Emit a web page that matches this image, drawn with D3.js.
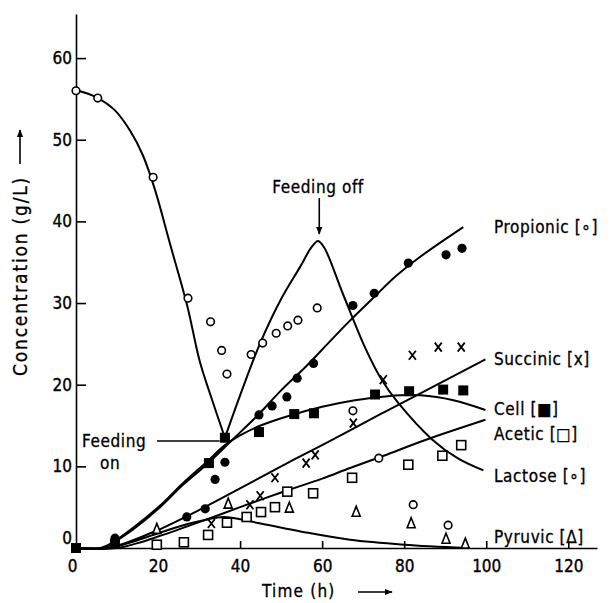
<!DOCTYPE html>
<html lang="en">
<head>
<meta charset="UTF-8">
<title>Concentration vs Time</title>
<style>
  body { margin: 0; background: #fff; }
  svg { display: block; }
  text { font-family: "DejaVu Sans Condensed", "DejaVu Sans", sans-serif; fill: #000; }
  .axis path, .axis line { stroke: #000; stroke-width: 1.6; }
  .axis text { font-size: 17px; stroke: #000; stroke-width: 0.35; }
  .curve { fill: none; stroke: #000; stroke-width: 2; }
  .lbl { font-size: 17px; stroke: #000; stroke-width: 0.3; letter-spacing: 0.6px; }
</style>
</head>
<body>
<svg width="610" height="603"></svg>
<script src="https://d3js.org/d3.v7.min.js"></script>
<script>
// measured points [time h, g/L]
const lactosePts = [[0,56],[5.3,55.1],[18.8,45.4],[27.3,30.6],[32.8,27.7],[35.5,24.2],[36.8,21.3],
  [42.7,23.7],[45.5,25.1],[48.8,26.3],[51.6,27.2],[54.1,27.9],[58.8,29.4],[67.5,16.8],[73.8,11],[82.2,5.3],[90.7,2.8]];
const propionicPts = [[9.5,1.2],[27,3.8],[31.5,4.8],[33.9,8.4],[36.3,10.5],[44.6,16.3],[47.8,17.4],
  [51.4,18.5],[53.9,20.8],[57.9,22.6],[67.5,29.7],[72.7,31.2],[81,34.9],[90.2,35.9],[94.1,36.7]];
const cellPts = [[0,0],[9.5,0.5],[32.4,10.4],[36.3,13.5],[44.6,14.2],[53.2,16.4],[58,16.5],
  [72.9,18.8],[81.2,19.2],[89.5,19.4],[94.4,19.3]];
const succinicPts = [[33,3],[42.4,5.3],[44.9,6.4],[48.5,8.6],[56.1,10.4],[58.3,11.4],[67.6,15.3],
  [74.9,20.6],[82,23.6],[88.3,24.6],[93.9,24.6]];
const aceticPts = [[19.7,0.4],[26.3,0.7],[32.2,1.6],[36.8,3.1],[41.6,3.8],[45.1,4.4],[48.5,5.0],
  [51.5,6.9],[57.8,6.7],[67.3,8.6],[81,10.2],[89.3,11.3],[93.9,12.6]];
const pyruvicPts = [[19.7,2.4],[37.1,5.5],[52,5.0],[68.3,4.5],[81.7,3.1],[90.2,1.2],[94.9,0.6]];

// fitted curves
const lactoseFall = [[0,56.1],[5,55.2],[9.5,53.6],[13.2,51.1],[16.3,48.1],[19.3,43.8],[23,37.1],
  [27.1,29.7],[30.2,22.8],[33.2,18.1],[36.3,13.5]];
const lactoseFeed = [[36.3,13.5],[40,18.7],[44.9,25.1],[50,30.5],[54.6,34.4],[57.5,36.9],[59,37.6],
  [60.5,36.8],[65,31.2],[70.5,24.5],[74.5,20.6],[78.5,17.8],[86.8,13.3],[93,11],[99.3,9.5]];
const propionicCurve = [[0,0],[7,0],[9,0.6],[14,2.3],[20.5,5],[26,7.7],[32,10.3],[38,13.2],[44,16.1],
  [50,19.3],[56,22.2],[60.2,24.4],[66.3,27.6],[72,30.4],[78,33.3],[84,35.7],[94.4,39.3]];
const cellCurve = [[0,0],[6,0],[9,0.7],[14,2.5],[20.5,5.2],[26,7.9],[32,10.6],[36.3,12.6],[40,13.8],
  [45,15],[52,16.2],[60,17.3],[68,18.1],[76,18.6],[84,18.7],[92,18.1],[99.8,16.9]];
const succinicCurve = [[0,0],[8,0],[12,0.6],[20,2.2],[30.2,4.7],[40,7.3],[50,10],[60,12.6],
  [66.8,14.4],[75,16.6],[85,19.2],[99.8,23.1]];
const aceticCurve = [[0,0],[10,0],[15,0.6],[20,1.4],[30.2,3.2],[40,5],[50,6.8],[60,8.5],
  [66.8,9.8],[75,11.3],[85,13.2],[99.8,15.7]];
const pyruvicCurve = [[0,0],[8,0],[14,0.8],[20,1.8],[27,2.9],[32,3.5],[36,3.8],[45,3.0],
  [55,2.0],[66.8,1.0],[80,0.4],[95,0]];

const xTicks = [0,20,40,60,80,100,120];
const yTicks = [0,10,20,30,40,50,60];

const labels = [
  {text: "Propionic [∘]", y: 39.3},
  {text: "Succinic [x]", y: 23.2},
  {text: "Cell [■]", y: 17.0},
  {text: "Acetic [□]", y: 14.0},
  {text: "Lactose [∘]", y: 8.8},
  {text: "Pyruvic [Δ]", y: 1.4}
];

const svg = d3.select("svg");
const x = d3.scaleLinear().domain([0,127]).range([76,597]);
const y = d3.scaleLinear().domain([0,65.4]).range([548,14]);

// axes
const gy = svg.append("g").attr("class","axis").attr("transform","translate(76,0)")
  .call(d3.axisLeft(y).tickValues(yTicks).tickSizeInner(-10).tickSizeOuter(0).tickPadding(4));
gy.selectAll(".tick text").filter(d => d === 0).attr("dy", "-0.25em");
const gx = svg.append("g").attr("class","axis").attr("transform","translate(0,548)")
  .call(d3.axisBottom(x).tickValues(xTicks).tickSizeInner(-7).tickSizeOuter(0).tickPadding(12));
gx.selectAll(".tick text").filter(d => d === 0).attr("dx", "-4");
gx.selectAll(".tick line").filter(d => d === 0).remove();

// curves
const line = d3.line().x(d => x(d[0])).y(d => y(d[1])).curve(d3.curveCatmullRom.alpha(0.5));
[propionicCurve, cellCurve, succinicCurve, aceticCurve, pyruvicCurve, lactoseFeed].forEach(c =>
  svg.append("path").attr("class","curve").attr("d", line(c)));
svg.append("path").attr("class","curve").attr("stroke-width", 2.6).attr("d", line(lactoseFall));

// markers
const g = svg.append("g");
g.selectAll(".lac").data(lactosePts).join("circle")
  .attr("cx", d => x(d[0])).attr("cy", d => y(d[1])).attr("r", 3.8)
  .attr("fill","#fff").attr("stroke","#000").attr("stroke-width",1.6);
g.selectAll(".pro").data(propionicPts).join("circle")
  .attr("cx", d => x(d[0])).attr("cy", d => y(d[1])).attr("r", 4.6).attr("fill","#000");
g.selectAll(".cel").data(cellPts).join("rect")
  .attr("x", d => x(d[0]) - 5).attr("y", d => y(d[1]) - 5).attr("width",10).attr("height",10)
  .attr("fill","#000");
g.selectAll(".ace").data(aceticPts).join("rect")
  .attr("x", d => x(d[0]) - 4.5).attr("y", d => y(d[1]) - 4.5).attr("width",9).attr("height",9)
  .attr("fill","#fff").attr("stroke","#000").attr("stroke-width",1.6);
g.selectAll(".pyr").data(pyruvicPts).join("path")
  .attr("transform", d => `translate(${x(d[0])},${y(d[1])})`)
  .attr("d","M0,-5L4,5L-4,5Z").attr("fill","#fff").attr("stroke","#000").attr("stroke-width",1.6);
g.selectAll(".suc").data(succinicPts).join("path")
  .attr("transform", d => `translate(${x(d[0])},${y(d[1])})`)
  .attr("d","M-3.5,-4.5L3.5,4.5M3.5,-4.5L-3.5,4.5").attr("stroke","#000").attr("stroke-width",1.8);

// series labels
svg.append("g").selectAll("text").data(labels).join("text")
  .attr("class","lbl").attr("x", 494).attr("y", d => y(d.y)).attr("dy","0.35em").text(d => d.text);

// arrowheads
svg.append("defs").append("marker").attr("id","ah").attr("viewBox","0 0 10 10")
  .attr("refX",9).attr("refY",5).attr("markerWidth",5).attr("markerHeight",7)
  .attr("orient","auto").append("path").attr("d","M0,1L10,5L0,9Z").attr("fill","#000");

// feeding annotations
svg.append("text").attr("class","lbl").attr("x", x(59)).attr("y", 193)
  .attr("text-anchor","middle").text("Feeding  off");
svg.append("line").attr("x1", x(59.3)).attr("x2", x(59.3)).attr("y1", 198).attr("y2", 234)
  .attr("stroke","#000").attr("stroke-width",1.6).attr("marker-end","url(#ah)");
svg.append("text").attr("class","lbl").attr("x", 82).attr("y", 447).text("Feeding");
svg.append("text").attr("class","lbl").attr("x", 100).attr("y", 469).text("on");
svg.append("line").attr("x1", 157).attr("x2", x(35)).attr("y1", 441).attr("y2", 441)
  .attr("stroke","#000").attr("stroke-width",1.4);

// axis titles
svg.append("text").attr("class","lbl").attr("transform","translate(27,376) rotate(-90)")
  .style("font-size","19px").style("letter-spacing","1.8px").text("Concentration  (g/L)");
svg.append("line").attr("x1", 20).attr("x2", 20).attr("y1", 164).attr("y2", 130)
  .attr("stroke","#000").attr("stroke-width",1.6).attr("marker-end","url(#ah)");
svg.append("text").attr("class","lbl").attr("x", 262).attr("y", 597)
  .style("letter-spacing","1.2px").text("Time  (h)");
svg.append("line").attr("x1", 358).attr("x2", 392).attr("y1", 592).attr("y2", 592)
  .attr("stroke","#000").attr("stroke-width",1.6).attr("marker-end","url(#ah)");
</script>
</body>
</html>
